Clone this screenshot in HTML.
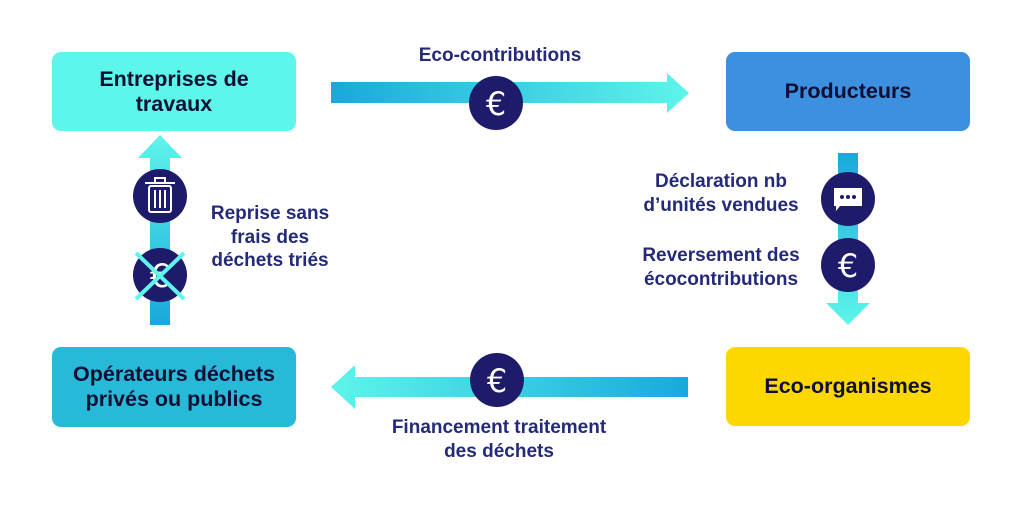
<!DOCTYPE html>
<html><head><meta charset="utf-8"><style>
body{margin:0;width:1024px;height:512px;background:#fff;overflow:hidden;font-family:"Liberation Sans",sans-serif}
.box{position:absolute;border-radius:9px;display:flex;align-items:center;justify-content:center;text-align:center;font-weight:bold;font-size:21.5px;color:#0d0f33;line-height:25px}
.t{position:absolute;font-weight:bold;font-size:19px;color:#242a78;line-height:23.5px;text-align:center}
</style></head><body>
<div class="box" style="left:52px;top:52px;width:244px;height:79px;background:#5ef5ea">Entreprises de<br>travaux</div>
<div class="box" style="left:726px;top:52px;width:244px;height:79px;background:#3d8fe0">Producteurs</div>
<div class="box" style="left:726px;top:347px;width:244px;height:79px;background:#fcd700">Eco-organismes</div>
<div class="box" style="left:52px;top:347px;width:244px;height:80px;background:#28b8d8">Opérateurs déchets<br>privés ou publics</div>
<svg width="1024" height="512" style="position:absolute;left:0;top:0">
<defs>
<linearGradient id="h" x1="0" x2="1"><stop offset="0" stop-color="#1aa8dc"/><stop offset="1" stop-color="#5ef5ea"/></linearGradient>
<linearGradient id="h2" x1="1" x2="0"><stop offset="0" stop-color="#1aa8dc"/><stop offset="1" stop-color="#5ef5ea"/></linearGradient>
<linearGradient id="v" x1="0" y1="1" x2="0" y2="0"><stop offset="0" stop-color="#1aa8dc"/><stop offset="1" stop-color="#5ef5ea"/></linearGradient>
<linearGradient id="v2" x1="0" y1="0" x2="0" y2="1"><stop offset="0" stop-color="#1aa8dc"/><stop offset="1" stop-color="#5ef5ea"/></linearGradient>
</defs>
<polygon points="331,82 667,82 667,73 689,93 667,113 667,103 331,103" fill="url(#h)"/>
<polygon points="688,377 355,377 355,365 331,387 355,409 355,397 688,397" fill="url(#h2)"/>
<polygon points="150,325 150,158 138,158 160,135 182,158 170,158 170,325" fill="url(#v)"/>
<polygon points="838,153 838,303 826,303 848,325 870,303 858,303 858,153" fill="url(#v2)"/>
<g fill="#1e1b6b">
<circle cx="496" cy="103" r="27"/><circle cx="497" cy="380" r="27"/>
<circle cx="160" cy="196" r="27"/><circle cx="160" cy="275" r="27"/>
<circle cx="848" cy="199" r="27"/><circle cx="848" cy="265" r="27"/>
</g>
<g fill="#fff" font-family="DejaVu Sans" font-weight="normal" font-size="32" text-anchor="middle">
<text x="496" y="115">€</text><text x="497" y="392">€</text><text x="848" y="277">€</text><text x="160" y="287">€</text>
</g>
<g stroke="#fff" stroke-width="2" fill="none">
<rect x="149" y="186" width="22" height="26" rx="2"/><line x1="145" y1="183" x2="175" y2="183"/><rect x="155" y="178" width="10" height="5"/>
<line x1="155" y1="190" x2="155" y2="208"/><line x1="160" y1="190" x2="160" y2="208"/><line x1="165" y1="190" x2="165" y2="208"/>
</g>
<path d="M834 188 h28 v18 h-22 l-4 5 v-5 h-2 z" fill="#fff"/>
<g fill="#1e1b6b"><circle cx="842" cy="197" r="2"/><circle cx="848" cy="197" r="2"/><circle cx="854" cy="197" r="2"/></g>
<g stroke="#5ef5ea" stroke-width="4"><line x1="136" y1="253" x2="184" y2="299"/><line x1="184" y1="253" x2="136" y2="299"/></g>
</svg>
<div class="t" style="left:380px;top:44px;width:240px">Eco-contributions</div>
<div class="t" style="left:180px;top:202px;width:180px">Reprise sans<br>frais des<br>déchets triés</div>
<div class="t" style="left:621px;top:170px;width:200px">Déclaration nb<br>d’unités vendues</div>
<div class="t" style="left:621px;top:244px;width:200px">Reversement des<br>écocontributions</div>
<div class="t" style="left:369px;top:416px;width:260px">Financement traitement<br>des déchets</div>
</body></html>
